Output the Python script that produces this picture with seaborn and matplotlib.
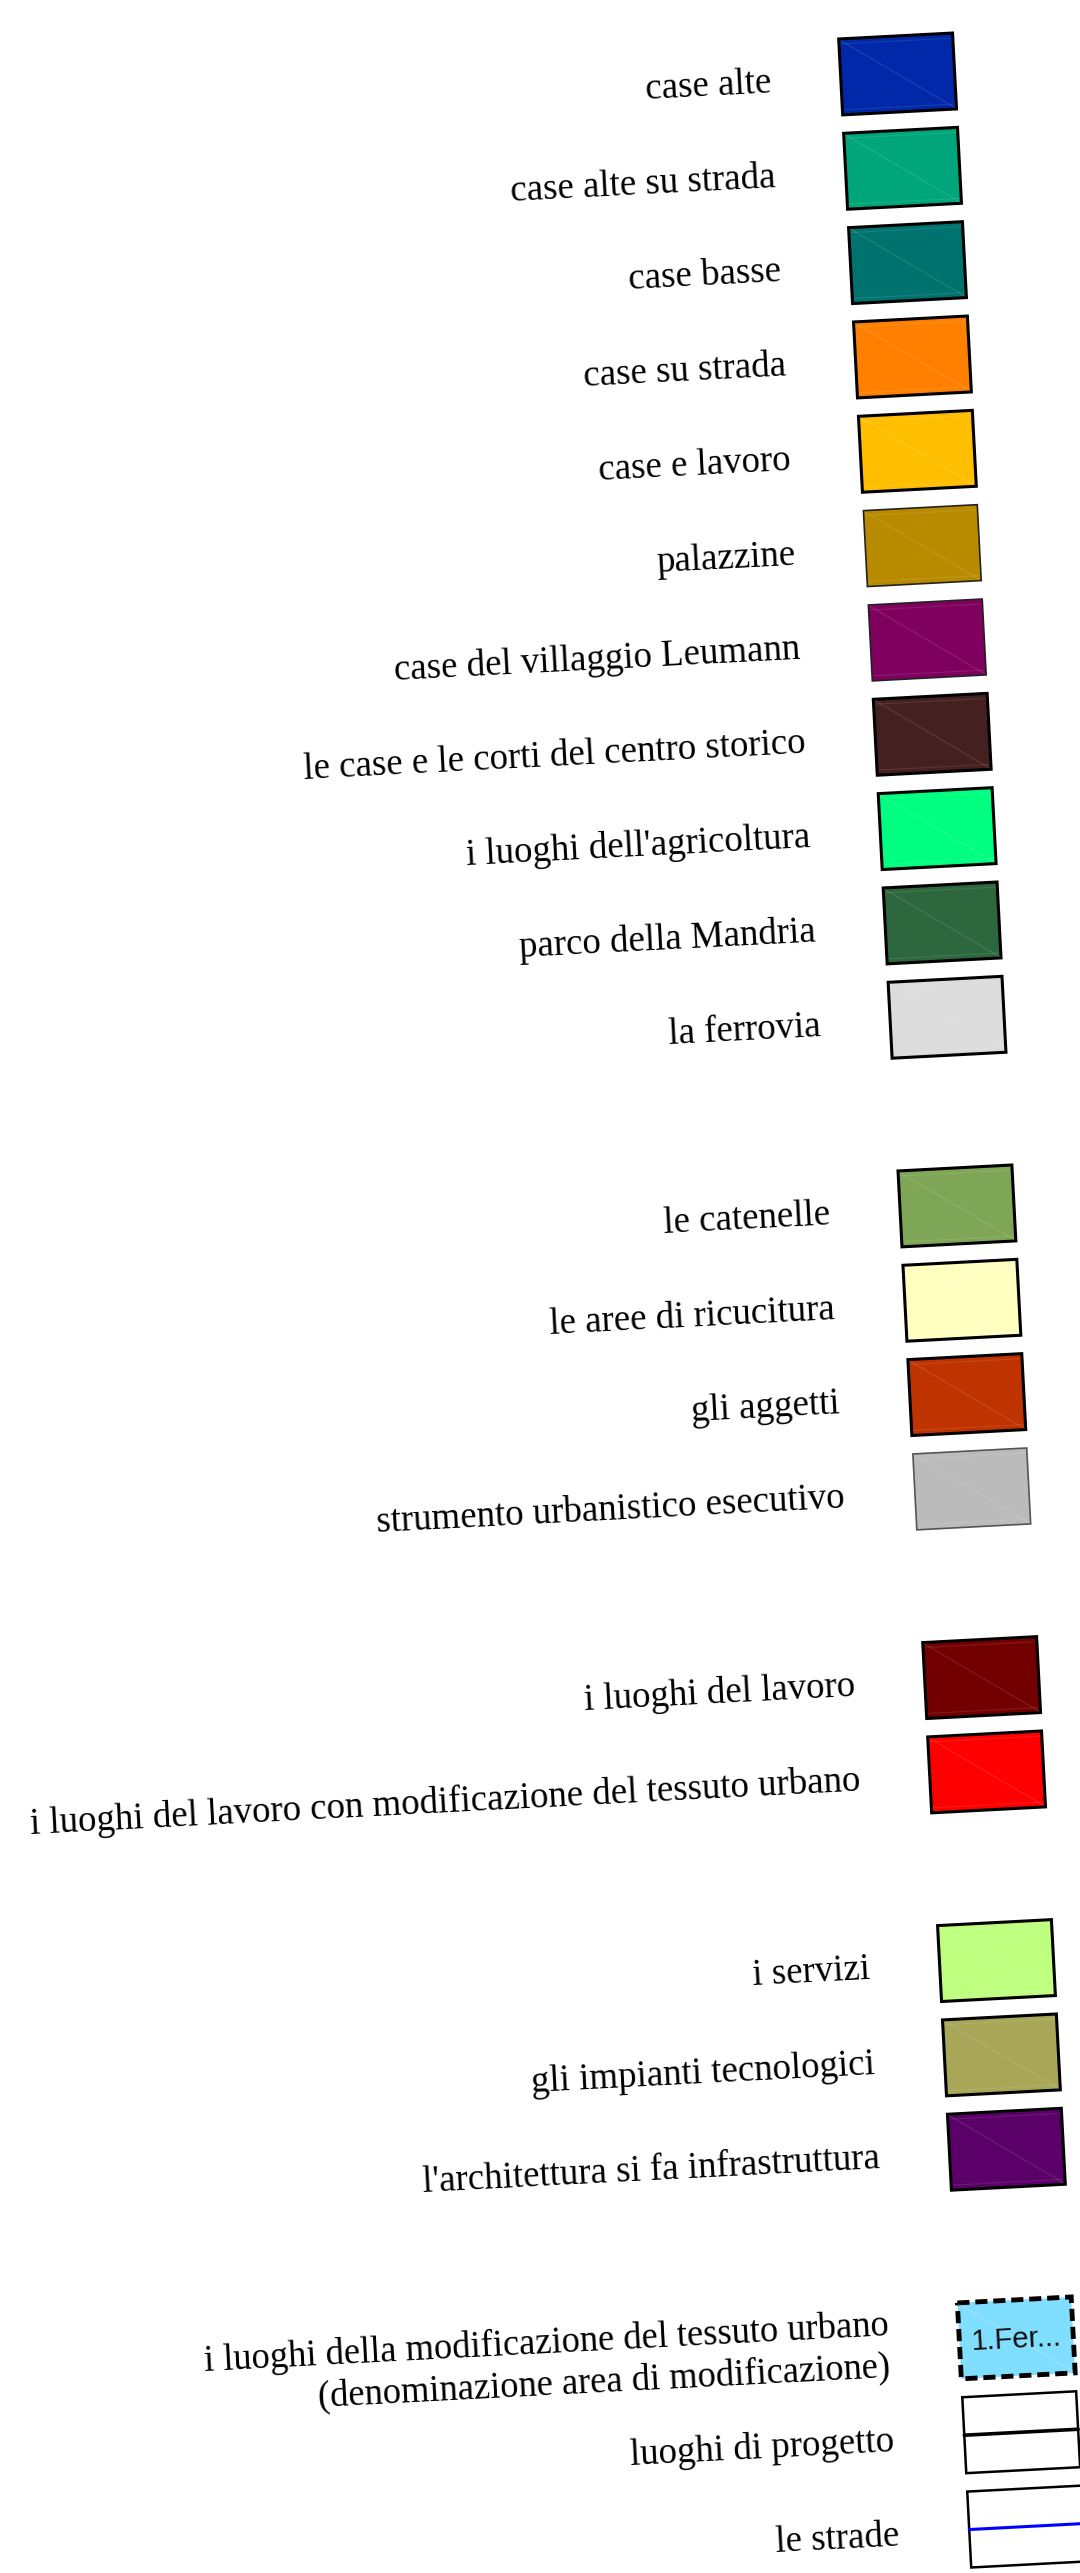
import matplotlib
matplotlib.use("Agg")
import matplotlib.pyplot as plt
import seaborn as sns
from matplotlib.patches import Rectangle
from matplotlib.transforms import Affine2D
from matplotlib.lines import Line2D

sns.set_style("white")
plt.rcParams['font.family'] = ['Liberation Serif', 'DejaVu Serif']

# ---- data ----
abitare_labels = ["case alte", "case alte su strada", "case basse", "case su strada",
                  "case e lavoro", "palazzine", "case del villaggio Leumann",
                  "le case e le corti del centro storico", "i luoghi dell'agricoltura",
                  "parco della Mandria", "la ferrovia"]
abitare_colors = ["#0028A8", "#00A67A", "#00736E", "#FF8000", "#FFBF00", "#B88A00",
                  "#800060", "#452020", "#00FF80", "#2D673E", "#DCDCDC"]

trasf_labels = ["le catenelle", "le aree di ricucitura", "gli aggetti",
                "strumento urbanistico esecutivo"]
trasf_colors = ["#7FA656", "#FFFFBF", "#BF3300", "#BBBBBB"]

lavoro_labels = ["i luoghi del lavoro",
                 "i luoghi del lavoro con modificazione del tessuto urbano"]
lavoro_colors = ["#730000", "#FF0000"]

servizi_labels = ["i servizi", "gli impianti tecnologici", "l'architettura si fa infrastruttura"]
servizi_colors = ["#BFFF80", "#A8A657", "#5A0068"]

progetto_labels = ["i luoghi della modificazione del tessuto urbano\n(denominazione area di modificazione)",
                   "luoghi di progetto", "le strade"]
progetto_colors = ["#80DFFF", "#FFFFFF", "#FFFFFF"]
progetto_kinds = ["dashed", "split", "road"]
area_sample_label = "1.Fer..."

thin_edge = {"palazzine": ("#222222", 1.2), "case del villaggio Leumann": ("#222222", 1.2),
             "strumento urbanistico esecutivo": ("#555555", 1.2)}

groups = [
    (abitare_labels, abitare_colors, ["fill"] * len(abitare_labels)),
    (trasf_labels, trasf_colors, ["fill"] * len(trasf_labels)),
    (lavoro_labels, lavoro_colors, ["fill"] * len(lavoro_labels)),
    (servizi_labels, servizi_colors, ["fill"] * len(servizi_labels)),
    (progetto_labels, progetto_colors, progetto_kinds),
]

# ---- layout ----
W_PX, H_PX = 1080, 2573
fig = plt.figure(figsize=(W_PX / 100, H_PX / 100), dpi=100)
ax = fig.add_axes([0, 0, 1, 1])
ax.set_xlim(0, W_PX)
ax.set_ylim(H_PX, 0)
ax.axis("off")

PX, PY = 838.7, 39.0
ANGLE = 3.0
PITCH = 94.46
SW, SH = 114, 76
rot = Affine2D().rotate_deg_around(PX, PY, -ANGLE) + ax.transData

row = 0
for gi, (labels, colors, kinds) in enumerate(groups):
    if gi > 0:
        row += 1
    for lab, col, kind in zip(labels, colors, kinds):
        y0 = PY + row * PITCH
        if kind == "fill":
            ec, lw = thin_edge.get(lab, ("black", 2.2))
            ax.add_patch(Rectangle((PX, y0), SW, SH, facecolor=col, edgecolor=ec,
                                   linewidth=lw, transform=rot, zorder=2))
            ax.add_line(Line2D([PX + 1, PX + SW - 1], [y0 + 1, y0 + SH - 1], color="white",
                               alpha=0.12, lw=0.8, transform=rot, zorder=3))
            for yy in (y0 + 5, y0 + SH - 5):
                ax.add_line(Line2D([PX + 2, PX + SW - 2], [yy, yy], color="white",
                                   alpha=0.10, lw=0.8, transform=rot, zorder=3))
        elif kind == "dashed":
            ax.add_patch(Rectangle((PX, y0), SW, SH, facecolor=col, edgecolor="black",
                                   linewidth=3.5, linestyle=(0, (2.5, 1.2)),
                                   transform=rot, zorder=2))
            ax.add_line(Line2D([PX + 1, PX + SW - 1], [y0 + 1, y0 + SH - 1], color="white",
                               alpha=0.2, lw=0.8, transform=rot, zorder=3))
            ax.text(PX + SW / 2, y0 + SH / 2 + 2, area_sample_label, ha="center", va="center",
                    rotation=ANGLE, rotation_mode="anchor", transform=rot,
                    fontsize=21, family=["Liberation Sans", "DejaVu Sans"], color="#111111",
                    zorder=4)
        elif kind == "split":
            ax.add_patch(Rectangle((PX, y0), SW, SH, facecolor=col, edgecolor="black",
                                   linewidth=1.8, transform=rot, zorder=2))
            ax.add_line(Line2D([PX, PX + SW], [y0 + SH / 2, y0 + SH / 2], color="black",
                               lw=2.6, transform=rot, zorder=3))
        elif kind == "road":
            ax.add_patch(Rectangle((PX, y0), SW, SH, facecolor=col, edgecolor="black",
                                   linewidth=1.8, transform=rot, zorder=2))
            ax.add_line(Line2D([PX, PX + SW], [y0 + SH / 2, y0 + SH / 2], color="#0000FF",
                               lw=2.2, transform=rot, zorder=3))

        lines = lab.split("\n")
        if len(lines) == 1:
            ax.text(PX - 70, y0 + 50, lab, ha="right", va="baseline", rotation=ANGLE,
                    rotation_mode="anchor", transform=rot, fontsize=26.6, color="black")
        else:
            for k, ln in enumerate(lines):
                ax.text(PX - 70, y0 + 28.5 + 42 * k, ln, ha="right", va="baseline",
                        rotation=ANGLE, rotation_mode="anchor", transform=rot,
                        fontsize=26.3, color="black")
        row += 1

fig.savefig("out.png", dpi=100, facecolor="white")
